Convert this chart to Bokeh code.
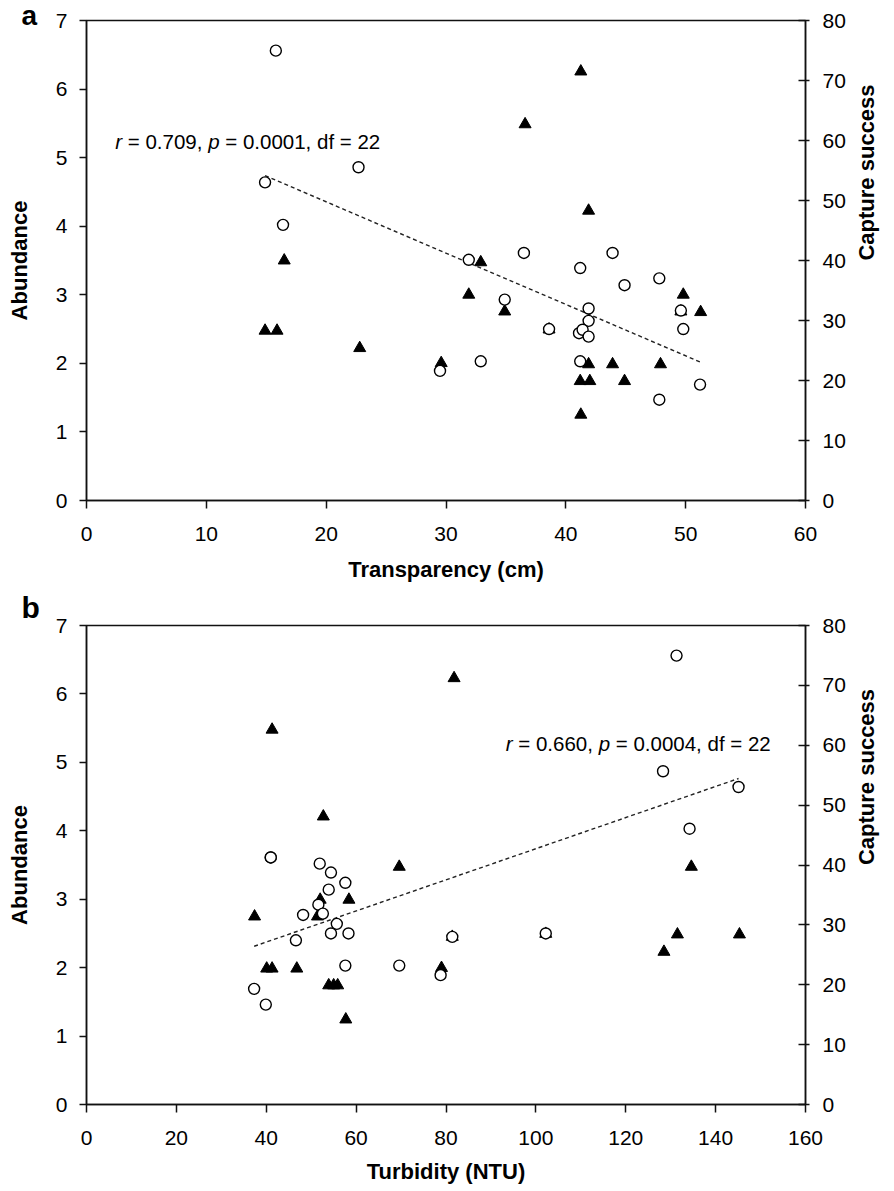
import math
import numpy as np
from bokeh.plotting import figure
from bokeh.models import Range1d, LinearAxis, Label, SingleIntervalTicker, Title
from bokeh.layouts import column
from bokeh.embed import file_html
from bokeh.resources import INLINE

# ---------------- data: panel a (transparency) ----------------
transp_abund = [15.8, 14.9, 22.7, 16.4, 29.5, 31.9, 36.5, 41.2, 43.9, 44.9, 47.8, 34.9,
                41.9, 41.9, 38.6, 41.1, 41.4, 41.9, 49.6, 49.8, 32.9, 41.2, 47.8, 51.2]
abundance_a = [6.56, 4.64, 4.86, 4.02, 1.89, 3.51, 3.61, 3.39, 3.61, 3.14, 3.24, 2.93,
               2.80, 2.62, 2.50, 2.44, 2.49, 2.39, 2.77, 2.50, 2.03, 2.03, 1.47, 1.69]
transp_capture = [16.5, 14.9, 15.9, 22.8, 29.6, 41.25, 36.6, 41.9, 32.9, 31.9, 49.8,
                  34.9, 51.25, 41.9, 43.9, 47.9, 41.2, 42.0, 44.9, 41.25, 38.6, 49.6]
capture_a = [40.0, 28.3, 28.3, 25.4, 22.9, 71.5, 62.7, 48.3, 39.7, 34.3, 34.3,
             31.5, 31.4, 22.7, 22.7, 22.7, 19.9, 19.9, 19.9, 14.3, 28.5, 31.5]

# ---------------- data: panel b (turbidity) ----------------
turb_abund = [131.3, 128.3, 145.1, 134.2, 41.0, 41.0, 51.9, 54.4, 57.6, 53.9, 51.6, 48.2,
              52.6, 55.7, 54.4, 58.3, 102.2, 81.4, 46.6, 57.6, 69.6, 78.8, 37.3, 39.9]
abundance_b = [6.56, 4.87, 4.64, 4.03, 3.61, 3.61, 3.52, 3.39, 3.24, 3.14, 2.92, 2.77,
               2.79, 2.64, 2.50, 2.50, 2.50, 2.45, 2.40, 2.03, 2.03, 1.89, 1.69, 1.46]
turb_capture = [81.8, 41.3, 52.7, 69.6, 134.6, 52.0, 58.4, 37.4, 51.4, 131.5, 145.3,
                128.5, 79.0, 40.1, 41.3, 46.8, 53.9, 55.0, 55.9, 57.7, 81.4, 102.2]
capture_b = [71.2, 62.6, 48.1, 39.7, 39.7, 34.2, 34.2, 31.4, 31.4, 28.4, 28.4,
             25.5, 22.8, 22.7, 22.7, 22.7, 19.9, 19.9, 19.9, 14.2, 28.0, 28.5]

stats_a = ("0.709", "0.0001", "22")
stats_b = ("0.660", "0.0004", "22")

FONT = "Liberation Sans"
INK = "#111111"
NB = "\u00a0"

# Arial/Liberation Sans advance widths (em)
W = {".": .278, ",": .278, " ": .278, NB: .278, "=": .584,
     "r": .333, "p": .556, "d": .556, "f": .278}


def text_w(s, size):
    return sum(W.get(c, .556) for c in s) * size


HAS_ORIENT = "axis_label_orientation" in LinearAxis.properties()


def make_panel(letter, letter_size, letter_standoff, xs_ab, ys_ab, xs_cs, ys_cs,
               xmax, xstep, xlabel, stats, stat_pos, height, top, bottom, xlabel_standoff):
    p = figure(width=894, height=height, output_backend="svg", toolbar_location=None,
               x_range=Range1d(0, xmax), y_range=Range1d(0, 7),
               min_border_left=86, min_border_right=89, min_border_top=top,
               min_border_bottom=bottom)
    p.extra_y_ranges = {"cs": Range1d(0, 80)}
    p.xgrid.visible = False
    p.ygrid.visible = False
    p.outline_line_color = INK
    p.outline_line_width = 1.5
    p.background_fill_color = "white"
    p.border_fill_color = "white"

    # panel letter as a left-aligned title shifted into the left margin
    p.add_layout(Title(text=letter, align="left", offset=-65, standoff=letter_standoff,
                       vertical_align="middle", text_font=FONT,
                       text_font_style="bold", text_font_size=f"{letter_size}px",
                       text_color="black"), "above")

    xa = p.xaxis[0]
    xa.ticker = SingleIntervalTicker(interval=xstep, num_minor_ticks=0)
    xa.axis_label = xlabel
    ya = p.yaxis[0]
    ya.ticker = SingleIntervalTicker(interval=1, num_minor_ticks=0)
    ya.axis_label = "Abundance"
    ra = LinearAxis(y_range_name="cs",
                    ticker=SingleIntervalTicker(interval=10, num_minor_ticks=0),
                    axis_label="Capture success")
    if HAS_ORIENT:
        ra.axis_label_orientation = math.pi / 2
    p.add_layout(ra, "right")

    for ax in (xa, ya, ra):
        ax.axis_line_color = INK
        ax.axis_line_width = 1.5
        ax.major_tick_line_color = INK
        ax.major_tick_line_width = 1.5
        ax.minor_tick_line_color = None
        ax.major_label_text_font = FONT
        ax.major_label_text_font_size = "21px"
        ax.major_label_text_color = "black"
        ax.axis_label_text_font = FONT
        ax.axis_label_text_font_style = "bold"
        ax.axis_label_text_font_size = "22px"
        ax.axis_label_text_color = "black"
    xa.major_tick_in = 0
    xa.major_tick_out = 8
    xa.major_label_standoff = 18
    xa.axis_label_standoff = xlabel_standoff
    ya.major_tick_in = 0
    ya.major_tick_out = 7
    ya.major_label_standoff = 12
    ya.axis_label_standoff = 21
    ra.major_tick_in = 7
    ra.major_tick_out = 4
    ra.major_label_standoff = 13
    ra.axis_label_standoff = 18

    # trend line of abundance (least squares fit of the plotted data)
    slope, icpt = np.polyfit(np.array(xs_ab), np.array(ys_ab), 1)
    lx = np.array([min(xs_ab), max(xs_ab)])
    p.line(lx, slope * lx + icpt, line_color="#222222", line_width=1.4, line_dash="4 3")

    p.scatter(xs_cs, ys_cs, y_range_name="cs", marker="triangle", size=12,
              fill_color="black", line_color="black", line_width=1)
    p.scatter(xs_ab, ys_ab, marker="circle", size=11, fill_color="white",
              line_color="black", line_width=1.4)

    # statistics text with italic r and p
    sx, sy = stat_pos
    fs = 20.5
    r_v, p_v, df_v = stats
    segs = [("r", "italic"), (f" = {r_v}, ".replace(" ", NB), "normal"), ("p", "italic"),
            (f" = {p_v}, df = {df_v}".replace(" ", NB), "normal")]
    off = 0.0
    for s, style in segs:
        p.add_layout(Label(x=sx, y=sy, x_offset=off, text=s, text_font=FONT,
                           text_font_style=style, text_font_size=f"{fs}px",
                           text_baseline="alphabetic", text_align="left",
                           text_color="black"))
        off += text_w(s, fs)
    return p


pa = make_panel("a", 28, -23, transp_abund, abundance_a, transp_capture, capture_a,
                60, 10, "Transparency (cm)", stats_a, (2.4, 5.24), 585, 20, 85, 13)
pb = make_panel("b", 30, 2, turb_abund, abundance_b, turb_capture, capture_b,
                160, 20, "Turbidity (NTU)", stats_b, (93.3, 5.27), 606, 40, 87, 11)

page = column(pa, pb, spacing=0)
open("out.html", "w").write(file_html(page, INLINE))
